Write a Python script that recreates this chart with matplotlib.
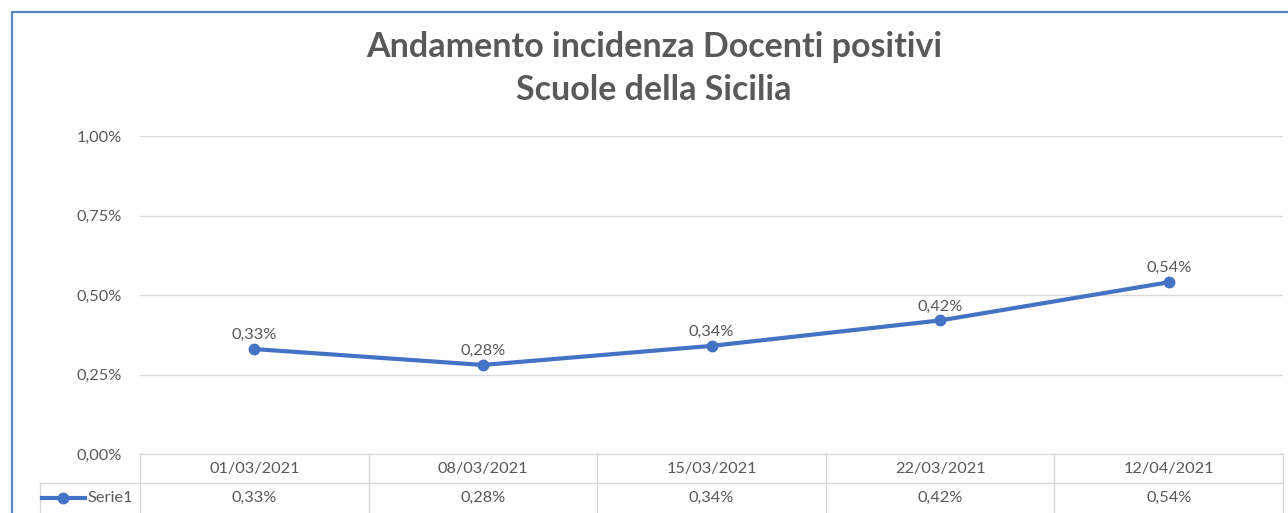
import matplotlib
matplotlib.use("Agg")
import matplotlib.pyplot as plt
from matplotlib.patches import Rectangle
from matplotlib.lines import Line2D
import matplotlib.transforms as mtransforms

plt.rcParams['font.family'] = ['Lato', 'DejaVu Sans']

title_lines = ["Andamento incidenza Docenti positivi", "Scuole della Sicilia"]
categories = ["01/03/2021", "08/03/2021", "15/03/2021", "22/03/2021", "12/04/2021"]
values = [0.33, 0.28, 0.34, 0.42, 0.54]
value_labels = ["0,33%", "0,28%", "0,34%", "0,42%", "0,54%"]
yticks = [0.0, 0.25, 0.50, 0.75, 1.00]
ytick_labels = ["0,00%", "0,25%", "0,50%", "0,75%", "1,00%"]
series_name = "Serie1"

W, H = 1288, 513
fig = plt.figure(figsize=(W / 100, H / 100), dpi=100)
fig.patch.set_facecolor("white")

blue = "#4472C4"
grid_c = "#d9d9d9"
text_c = "#595959"
fs = 11.8

# outer chart border (only left and top visible)
fig.add_artist(Rectangle((12 / W, -0.2), 1.5, 1.2 - 12 / H, transform=fig.transFigure,
                         fill=False, edgecolor="#5b87c9", linewidth=1.6))

left, right = 140 / W, 1283 / W
bottom, top = 1 - 454 / H, 1 - 136 / H
ax = fig.add_axes([left, bottom, right - left, top - bottom])
ax.set_xlim(-0.5, len(categories) - 0.5)
ax.set_ylim(0, 1.0)
for s in ax.spines.values():
    s.set_visible(False)
ax.set_yticks(yticks)
ax.set_yticklabels(ytick_labels, fontsize=fs, color=text_c)
ax.tick_params(axis="y", length=0, pad=13)
ax.set_xticks([])
ax.grid(axis="y", color=grid_c, linewidth=1)
ax.set_axisbelow(True)

x = list(range(len(categories)))
ax.plot(x, values, color=blue, linewidth=3, marker="o", markersize=7.5, zorder=3,
        solid_capstyle="round")
for xi, v, lab in zip(x, values, value_labels):
    ax.annotate(lab, (xi, v), xytext=(0, 5), textcoords="offset points",
                ha="center", va="bottom", fontsize=fs, color=text_c)

# data table under the axis
row_h = 29 / (454 - 136)  # in axes fraction
tr = mtransforms.blended_transform_factory(ax.transData, ax.transAxes)
lkw = dict(color=grid_c, linewidth=1, clip_on=False, transform=tr)
n = len(categories)
unit = (1283 - 140) / n
for b in [i - 0.5 for i in range(n + 1)]:
    ax.add_line(Line2D([b, b], [0, -2.2 * row_h], **lkw))
ax.add_line(Line2D([-0.5, n - 0.5], [0, 0], **lkw))
legend_left = -0.5 - (140 - 40) / unit
ax.add_line(Line2D([legend_left, n - 0.5], [-row_h, -row_h], **lkw))
ax.add_line(Line2D([legend_left, legend_left], [-row_h, -2.2 * row_h], **lkw))
for xi, cat, lab in zip(x, categories, value_labels):
    ax.text(xi, -0.5 * row_h, cat, transform=tr, ha="center", va="center",
            fontsize=fs, color=text_c)
    ax.text(xi, -1.5 * row_h, lab, transform=tr, ha="center", va="center",
            fontsize=fs, color=text_c)

# legend key in table
kx0 = -0.5 - (140 - 42) / unit
kx1 = -0.5 - (140 - 85) / unit
ax.add_line(Line2D([kx0, kx1], [-1.5 * row_h] * 2, color=blue, linewidth=3,
                   clip_on=False, transform=tr))
ax.add_line(Line2D([(kx0 + kx1) / 2], [-1.5 * row_h], color=blue, marker="o",
                   markersize=7.5, clip_on=False, transform=tr))
ax.text(-0.5 - (140 - 87) / unit, -1.5 * row_h, series_name, transform=tr,
        ha="left", va="center", fontsize=fs, color=text_c)

fig.text(654 / W, 1 - 47 / H, title_lines[0], ha="center", va="center",
         fontsize=24.5, fontweight="bold", color=text_c)
fig.text(654 / W, 1 - 90 / H, title_lines[1], ha="center", va="center",
         fontsize=24.5, fontweight="bold", color=text_c)

fig.savefig("out.png", dpi=100, facecolor="white")
